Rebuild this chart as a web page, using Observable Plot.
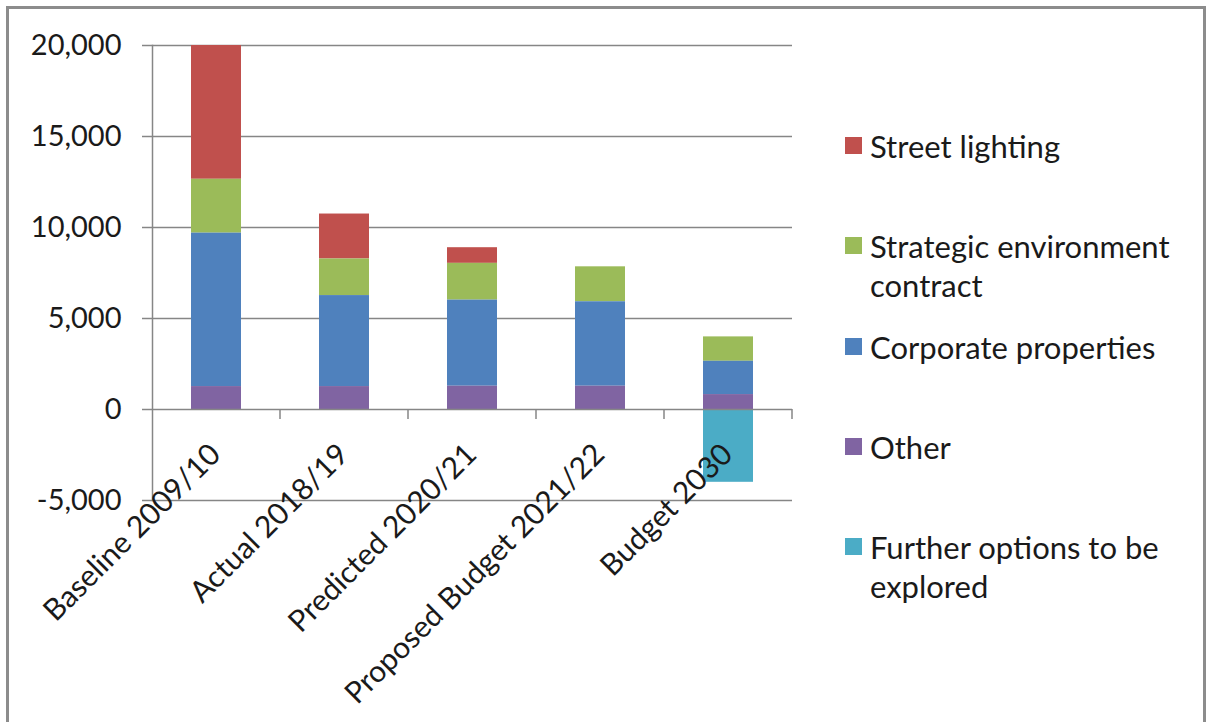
<!DOCTYPE html>
<html>
<head>
<meta charset="utf-8">
<script src="https://cdn.jsdelivr.net/npm/d3@7"></script>
<script src="https://cdn.jsdelivr.net/npm/@observablehq/plot@0.6"></script>
<style>
  html, body { margin: 0; padding: 0; background: #fff; overflow: hidden; }
  #wrap { position: relative; width: 1209px; height: 722px; overflow: hidden; font-family: Lato, sans-serif; color: #1a1a1a; }
  #border { position: absolute; left: 6px; top: 6px; width: 1194px; height: 800px; border: 3px solid #8c8c8c; }
  #chart { position: absolute; left: 0; top: 0; }
  #legend { position: absolute; left: 845px; top: 127px; }
  .item { position: absolute; left: 0; display: flex; align-items: flex-start; white-space: nowrap; font-size: 31px; line-height: 39px; }
  .sw { width: 17px; height: 17px; margin-top: 10px; margin-right: 8px; flex: none; }
</style>
</head>
<body>
<div id="wrap">
  <div id="border"></div>
  <div id="chart"></div>
  <div id="legend"></div>
</div>
<script>
// ---- data ----
const categories = ["Baseline 2009/10", "Actual 2018/19", "Predicted 2020/21", "Proposed Budget 2021/22", "Budget 2030"];
const series = ["Street lighting", "Strategic environment contract", "Corporate properties", "Other", "Further options to be explored"];
const legendLabels = [["Street lighting"], ["Strategic environment", "contract"], ["Corporate properties"], ["Other"], ["Further options to be", "explored"]];
const seriesColors = ["#C0504D", "#9BBB59", "#4F81BD", "#8064A2", "#4BACC6"];
const streetLighting = [7350, 2470, 860, 0, 0];
const strategicEnvironment = [2960, 2010, 2020, 1920, 1340];
const corporateProperties = [8430, 5000, 4730, 4640, 1830];
const other = [1260, 1260, 1280, 1280, 820];
const furtherOptions = [0, 0, 0, 0, -4000];
const yTicks = [-5000, 0, 5000, 10000, 15000, 20000];
const stackOrder = ["Other", "Corporate properties", "Strategic environment contract", "Street lighting", "Further options to be explored"];

const seriesValues = [streetLighting, strategicEnvironment, corporateProperties, other, furtherOptions];
const rows = [];
series.forEach((s, i) => categories.forEach((c, j) => {
  if (seriesValues[i][j] !== 0) rows.push({series: s, category: c, value: seriesValues[i][j]});
}));

const gray = "#868686";
const chart = Plot.plot({
  width: 1209,
  height: 722,
  marginTop: 45,
  marginBottom: 222,
  marginLeft: 152,
  marginRight: 417,
  style: {fontFamily: "Lato, sans-serif", fontSize: "30px", color: "#1a1a1a", background: "transparent"},
  x: {domain: categories, paddingInner: 0.61, paddingOuter: 0.305, label: null},
  y: {domain: [-5000, 20000], label: null},
  color: {domain: series, range: seriesColors},
  marks: [
    Plot.gridY(yTicks.filter(t => t !== 0), {stroke: gray, strokeOpacity: 1, strokeWidth: 1.5}),
    Plot.barY(rows, Plot.stackY({x: "category", y: "value", fill: "series", order: stackOrder})),
    Plot.ruleY([0], {stroke: gray, strokeWidth: 1.5}),
    Plot.frame({anchor: "left", stroke: gray, strokeWidth: 1.5}),
    Plot.axisY(yTicks, {tickSize: 10, tickPadding: 21, stroke: gray, fill: "#1a1a1a", strokeWidth: 1.5, fontSize: 29,
      tickFormat: d => d.toLocaleString("en-US"), label: null}),
    Plot.axisX({tickSize: 0, tickPadding: -51, tickRotate: -45, dx: -1, fill: "#1a1a1a", fontSize: 30, label: null})
  ]
});
document.getElementById("chart").appendChild(chart);

// category boundary ticks on the zero axis, placed with Plot's own scales
const xs = chart.scale("x");
const y0 = chart.scale("y").apply(0);
const gap = (xs.step - xs.bandwidth) / 2;
const bounds = categories.map(c => xs.apply(c) - gap).concat([xs.apply(categories[categories.length - 1]) + xs.bandwidth + gap]);
d3.select(chart).append("g")
  .selectAll("line").data(bounds.slice(1)).join("line")
  .attr("x1", d => d).attr("x2", d => d)
  .attr("y1", y0).attr("y2", y0 + 10)
  .attr("stroke", gray).attr("stroke-width", 1.5);

// legend
const legend = d3.select("#legend");
legendLabels.forEach((lines, i) => {
  const item = legend.append("div").attr("class", "item").style("top", (i * 100.3) + "px");
  item.append("div").attr("class", "sw").style("background", seriesColors[i]);
  item.append("div").html(lines.join("<br>"));
});
</script>
</body>
</html>
